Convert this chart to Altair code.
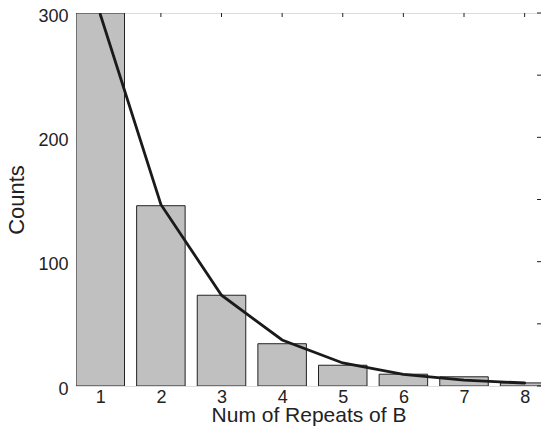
import altair as alt
import pandas as pd

repeats = [1, 2, 3, 4, 5, 6, 7, 8]
counts = [300, 145, 73, 34, 16.7, 9.5, 7.4, 2.5]
fit = [299, 146, 73, 37, 18.5, 9.3, 4.7, 2.4]
x_ticks = [1, 2, 3, 4, 5, 6, 7, 8]
y_ticks = [0, 100, 200, 300]
right_ticks = [0, 50, 100, 150, 200, 250, 300]

W, H = 465, 373
FONT = "Liberation Sans"

df = pd.DataFrame({"n": repeats, "count": counts, "fit": fit})
df_top = pd.DataFrame({"n": x_ticks})
df_right = pd.DataFrame({"v": right_ticks})

xs = alt.Scale(domain=[0.6, 8.27], nice=False, zero=False)
ys = alt.Scale(domain=[0, 300], nice=False)

base = alt.Chart(df)

bars = base.transform_calculate(
    x0="datum.n - 0.4", x1="datum.n + 0.4"
).mark_bar(fill="#c0c0c0", stroke="#222222", strokeWidth=1, clip=True).encode(
    x=alt.X("x0:Q", scale=xs, axis=alt.Axis(
        values=x_ticks, title="Num of Repeats of B", tickSize=0, domain=False,
        grid=False, labelFontSize=18, titleFontSize=21, labelPadding=2,
        titlePadding=15, titleBaseline="alphabetic",
        labelColor="#222222", titleColor="#222222",
        labelFont=FONT, titleFont=FONT, titleFontWeight="normal", format="d")),
    x2="x1:Q",
    y=alt.Y("count:Q", scale=ys, axis=alt.Axis(
        values=y_ticks, title="Counts", tickSize=0, domain=False, grid=False,
        labelFontSize=18, titleFontSize=22, labelPadding=8, titlePadding=9,
        labelOffset=3,
        labelColor="#222222", titleColor="#222222", labelFont=FONT,
        titleFont=FONT, titleFontWeight="normal")),
    y2=alt.datum(0),
)

line = base.mark_line(color="#1a1a1a", strokeWidth=2.8, strokeCap="round",
                      clip=True).encode(
    x=alt.X("n:Q", scale=xs),
    y=alt.Y("fit:Q", scale=ys),
)

top_ticks = alt.Chart(df_top).mark_rule(color="#222222", strokeWidth=1).encode(
    x=alt.X("n:Q", scale=xs),
    y=alt.value(0),
    y2=alt.value(4),
)

right_tk = alt.Chart(df_right).mark_rule(color="#222222", strokeWidth=1).encode(
    y=alt.Y("v:Q", scale=ys),
    x=alt.value(W - 4),
    x2=alt.value(W),
)

chart = alt.layer(bars, line, top_ticks, right_tk).properties(
    width=W, height=H,
    autosize=alt.AutoSizeParams(type="none"),
    padding={"left": 68, "top": 5, "right": 0, "bottom": 40},
).configure_view(stroke="#222222", strokeWidth=1.2).configure(background="white")

chart.save("out.html", embed_options={"renderer": "svg", "actions": False})
